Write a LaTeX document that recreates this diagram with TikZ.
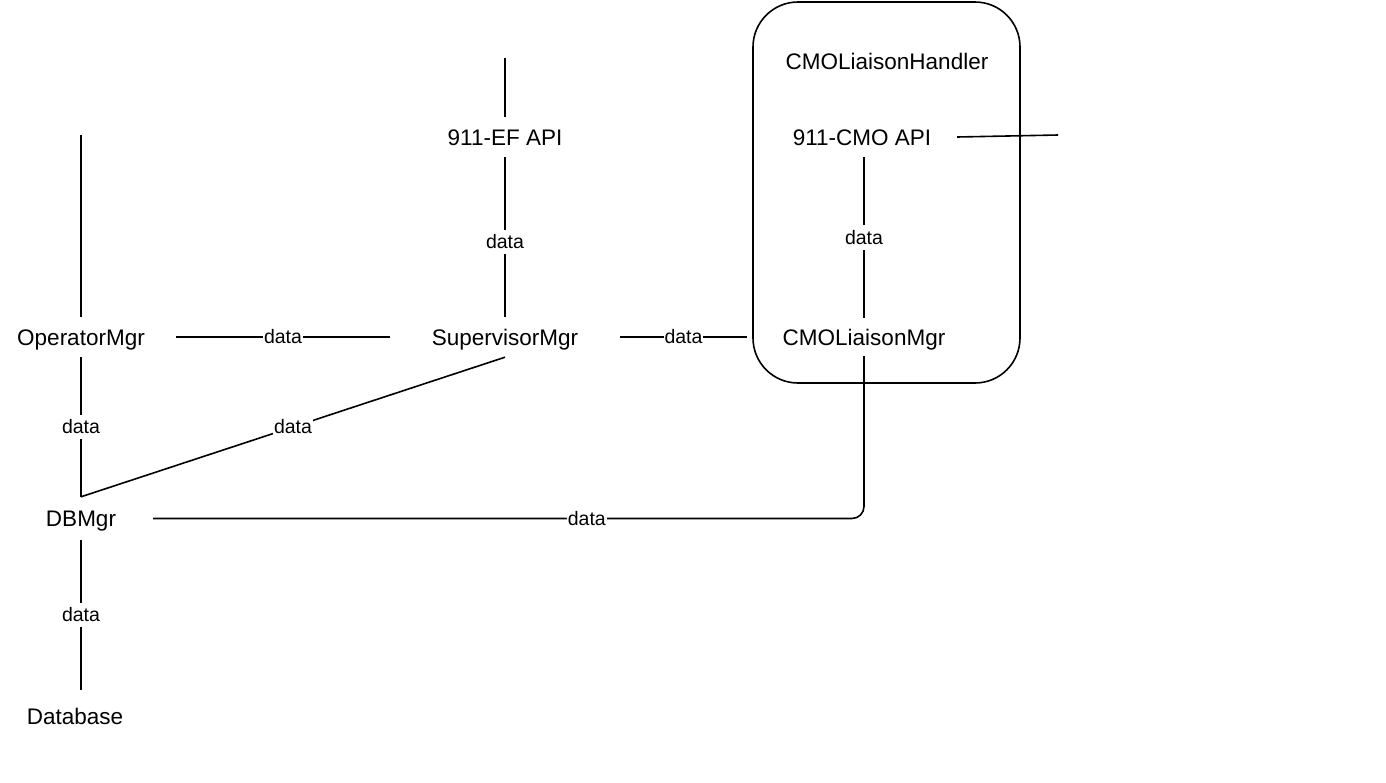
\documentclass[tikz,border=0pt]{standalone}
\usepackage{fontspec}
\setmainfont{Liberation Sans}
\begin{document}
\begin{tikzpicture}[x=1pt,y=-1pt,
  comp/.style={font=\fontsize{22.5}{27}\selectfont, inner sep=0pt, minimum height=40pt, text height=16pt, text depth=0pt},
  lbl/.style={font=\fontsize{19.5}{23}\selectfont, fill=white, inner sep=1pt},
  vlbl/.style={font=\fontsize{19.5}{23}\selectfont, fill=white, inner xsep=1pt, inner ysep=5pt},
  conn/.style={line width=1.6pt}]
\useasboundingbox (0,0) rectangle (1386,782);
% container
\draw[line width=1.6pt, rounded corners=45pt] (753,2) rectangle (1020,383);
\node[comp] (handler) at (887,61) {CMOLiaisonHandler};
% nodes
\node[comp, minimum width=190pt] (op) at (81,337) {OperatorMgr};
\node[comp, minimum width=144pt, minimum height=43pt] (db) at (81,518.5) {DBMgr};
\node[comp, minimum height=52pt] (dbase) at (75,716) {Database};
\node[comp, minimum width=230pt] (sup) at (505,337) {SupervisorMgr};
\node[comp] (ef) at (505,137) {911-EF API};
\node[comp, minimum width=234pt, minimum height=38pt] (cmomgr) at (864,337) {CMOLiaisonMgr};
\node[comp, minimum width=190pt] (cmoapi) at (862,137) {911-CMO API};
% free ends
\coordinate (optop) at (81,135);
\coordinate (eftop) at (505,58);
\coordinate (cmoright) at (1058,135);
% connectors
\draw[conn] (optop) -- (op.north);
\draw[conn] (eftop) -- (ef.north);
\draw[conn] (cmoapi.east) -- (cmoright);
\draw[conn] (op.east) -- node[lbl] {data} (sup.west);
\draw[conn] (sup.east) -- node[lbl] {data} (cmomgr.west);
\draw[conn] (op.south) -- node[vlbl] {data} (db.north);
\draw[conn] (db.north) -- node[lbl] {data} (sup.south);
\draw[conn] (db.south) -- node[vlbl] {data} (db.south |- dbase.north);
\draw[conn] (ef.south) -- node[vlbl, pos=0.53] {data} (sup.north);
\draw[conn] (cmoapi.south -| cmomgr.north) -- node[vlbl] {data} (cmomgr.north);
\draw[conn, rounded corners=12pt] (db.east) -- node[lbl, pos=0.61] {data} (cmomgr.south |- db.east) -- (cmomgr.south);
\end{tikzpicture}
\end{document}
